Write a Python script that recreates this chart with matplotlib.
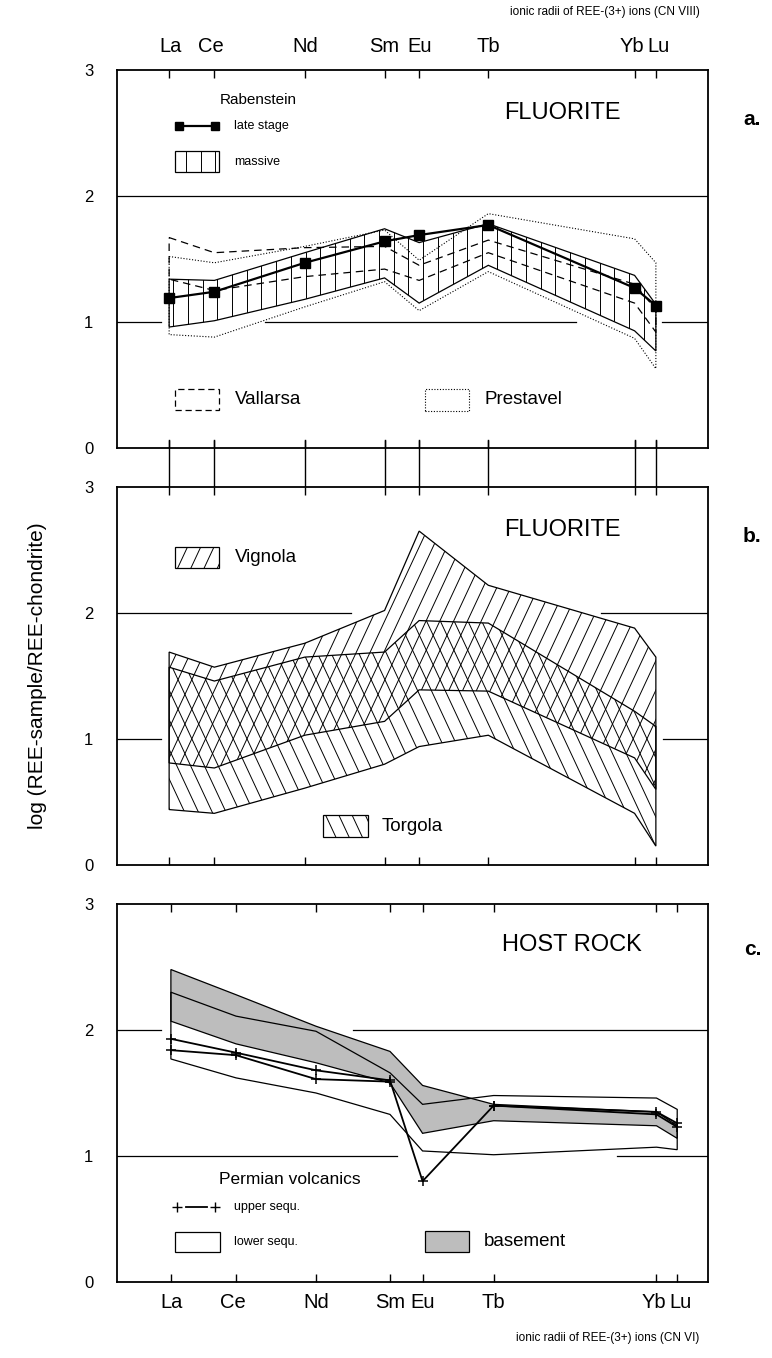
import numpy as np
import matplotlib
matplotlib.use('Agg')
import matplotlib.pyplot as plt
import matplotlib.transforms as mtransforms
from matplotlib.patches import Polygon
from matplotlib.collections import LineCollection

plt.rcParams['font.family'] = ['Liberation Sans', 'DejaVu Sans']

# REE and their ionic radii (Angstrom)
ree = ['La', 'Ce', 'Nd', 'Sm', 'Eu', 'Tb', 'Yb', 'Lu']
radii_cn8 = [1.160, 1.143, 1.109, 1.079, 1.066, 1.040, 0.985, 0.977]
radii_cn6 = [1.032, 1.010, 0.983, 0.958, 0.947, 0.923, 0.868, 0.861]

# a. fluorite: Rabenstein, Vallarsa, Prestavel
late_stage = [1.19, 1.24, 1.47, 1.64, 1.69, 1.77, 1.27, 1.13]
massive_hi = [1.34, 1.33, 1.55, 1.74, 1.63, 1.78, 1.37, 1.14]
massive_lo = [0.96, 1.01, 1.18, 1.35, 1.15, 1.45, 0.93, 0.77]
vallarsa_hi = [1.67, 1.55, 1.59, 1.60, 1.45, 1.65, 1.30, 1.10]
vallarsa_lo = [1.34, 1.25, 1.36, 1.42, 1.33, 1.55, 1.15, 0.92]
prestavel_hi = [1.52, 1.47, 1.60, 1.73, 1.49, 1.86, 1.66, 1.47]
prestavel_lo = [0.90, 0.88, 1.12, 1.32, 1.09, 1.40, 0.87, 0.63]

# b. fluorite: Vignola, Torgola
vignola_hi = [1.69, 1.57, 1.76, 2.02, 2.65, 2.22, 1.88, 1.65]
vignola_lo = [0.81, 0.77, 1.03, 1.14, 1.39, 1.38, 0.85, 0.60]
torgola_hi = [1.57, 1.46, 1.65, 1.69, 1.94, 1.92, 1.22, 1.10]
torgola_lo = [0.44, 0.41, 0.61, 0.80, 0.94, 1.03, 0.41, 0.15]

# c. host rock
basement_hi = [2.48, 2.28, 2.03, 1.83, 1.56, 1.41, 1.35, 1.24]
basement_lo = [2.07, 1.89, 1.74, 1.58, 1.18, 1.28, 1.24, 1.14]
lower_hi = [2.30, 2.11, 1.99, 1.66, 1.41, 1.48, 1.46, 1.37]
lower_lo = [1.77, 1.62, 1.50, 1.33, 1.04, 1.01, 1.07, 1.05]
upper_1 = [1.93, 1.82, 1.68, 1.60, 0.80, 1.40, 1.35, 1.26]
upper_2 = [1.84, 1.80, 1.61, 1.59, np.nan, 1.40, 1.33, 1.23]

# small horizontal nudges (px) for crowded tick labels
label_shift = [1, -3, 0, 0, 0, 0, -3, 3]


def hatch(ax, patch, angle, spacing, lw=0.7):
    # parallel lines (pixel spacing) clipped to a patch
    fig = ax.figure
    bb = ax.get_position()
    W = bb.width * fig.get_figwidth() * fig.dpi
    H = bb.height * fig.get_figheight() * fig.dpi
    a = np.deg2rad(angle)
    d = np.array([np.cos(a), np.sin(a)])
    n = np.array([-np.sin(a), np.cos(a)])
    L = np.hypot(W, H)
    c0 = np.array([W / 2, H / 2])
    segs = []
    for c in np.arange(-L, L, spacing):
        p0 = (c0 + c * n - L * d) / [W, H]
        p1 = (c0 + c * n + L * d) / [W, H]
        segs.append([p0, p1])
    lc = LineCollection(segs, transform=ax.transAxes, colors='k', linewidths=lw)
    ax.add_collection(lc, autolim=False)
    lc.set_clip_path(patch)


def band(ax, x, lo, hi, ls='-', lw=0.9, hatch_angle=None, spacing=14, fc='none'):
    verts = list(zip(x, hi)) + list(zip(x[::-1], lo[::-1]))
    p = Polygon(verts, closed=True, facecolor=fc, edgecolor='k', lw=lw,
                linestyle=ls, transform=ax.transData)
    ax.add_patch(p)
    if hatch_angle is not None:
        hatch(ax, p, hatch_angle, spacing)
    return p


def legend_box(ax, x0, y0, w, h, ls='-', lw=0.9, hatch_angle=None, spacing=14, fc='none'):
    verts = [(x0, y0), (x0 + w, y0), (x0 + w, y0 + h), (x0, y0 + h)]
    r = Polygon(verts, closed=True, transform=ax.transAxes, facecolor=fc,
                edgecolor='k', lw=lw, linestyle=ls, clip_on=False)
    ax.add_patch(r)
    if hatch_angle is not None:
        hatch(ax, r, hatch_angle, spacing)


def setup(ax, radii, xlim, gaps):
    ax.set_xlim(*xlim)
    ax.set_ylim(0, 3)
    ax.set_xticks(radii)
    ax.set_xticklabels(ree)
    ax.set_yticks([0, 1, 2, 3])
    ax.tick_params(axis='y', length=0, pad=17, labelsize=12)
    ax.tick_params(axis='x', direction='in', length=6, width=1, top=True, bottom=True,
                   labelbottom=False, labeltop=False, labelsize=14.5)
    for s in ax.spines.values():
        s.set_linewidth(1.3)
    for yv, segs in gaps.items():
        for a, b in segs:
            ax.axhline(yv, a, b, color='k', lw=0.9, zorder=0)


def shift_labels(ax, labels):
    for lab, dx in zip(labels, label_shift):
        lab.set_transform(lab.get_transform() +
                          mtransforms.ScaledTranslation(dx / 100, 0, ax.figure.dpi_scale_trans))


fig = plt.figure(figsize=(7.72, 13.58), dpi=100)
left, wid, hgt = 117 / 772, 591 / 772, 378 / 1358
ax_a = fig.add_axes([left, 1 - 448 / 1358, wid, hgt])
ax_b = fig.add_axes([left, 1 - 865 / 1358, wid, hgt])
ax_c = fig.add_axes([left, 1 - 1282 / 1358, wid, hgt])

x8 = np.array(radii_cn8)
x6 = np.array(radii_cn6)
lim8 = (1.1796, 0.9574)
lim6 = (1.0502, 0.8506)

setup(ax_a, radii_cn8, lim8, {2: [(0, 1)], 1: [(0, 0.074), (0.25, 0.777), (0.922, 1)]})
setup(ax_b, radii_cn8, lim8, {2: [(0, 0.396), (0.819, 1)], 1: [(0, 0.074), (0.924, 1)]})
setup(ax_c, radii_cn6, lim6, {2: [(0, 0.074), (0.399, 1)], 1: [(0, 0.474), (0.846, 1)]})

ax_a.tick_params(axis='x', labeltop=True, pad=10)
ax_c.tick_params(axis='x', labelbottom=True, pad=8)
shift_labels(ax_a, [t.label2 for t in ax_a.xaxis.get_major_ticks()])
shift_labels(ax_c, [t.label1 for t in ax_c.xaxis.get_major_ticks()])

# vertical connectors between panel a and b
for xv in radii_cn8:
    ax_a.plot([xv, xv], [0.02, -0.124], color='k', lw=1,
              transform=ax_a.get_xaxis_transform(), clip_on=False)

# ---- panel a
band(ax_a, x8, np.array(prestavel_lo), np.array(prestavel_hi), ls=(0, (1, 1.6)), lw=0.8)
band(ax_a, x8, np.array(vallarsa_lo), np.array(vallarsa_hi), ls=(0, (6, 4)), lw=0.9)
band(ax_a, x8, np.array(massive_lo), np.array(massive_hi), hatch_angle=90, spacing=14.7)
ax_a.plot(x8, late_stage, color='k', lw=1.6, marker='s', ms=6.5, zorder=5)

ax_a.text(0.753, 0.886, 'FLUORITE', transform=ax_a.transAxes, ha='center', va='center', fontsize=17)
ax_a.text(1.075, 0.87, 'a.', transform=ax_a.transAxes, ha='center', va='center',
          fontsize=15, fontweight='bold')
ax_a.text(0.239, 0.92, 'Rabenstein', transform=ax_a.transAxes, ha='center', va='center', fontsize=11)
ax_a.plot([0.105, 0.165], [0.852, 0.852], transform=ax_a.transAxes, color='k', lw=1.6,
          marker='s', ms=5.5)
ax_a.text(0.198, 0.852, 'late stage', transform=ax_a.transAxes, va='center', fontsize=9)
legend_box(ax_a, 0.098, 0.730, 0.075, 0.056, hatch_angle=90, spacing=14.5)
ax_a.text(0.198, 0.757, 'massive', transform=ax_a.transAxes, va='center', fontsize=9)
legend_box(ax_a, 0.098, 0.101, 0.075, 0.056, ls=(0, (5, 3)))
ax_a.text(0.2, 0.128, 'Vallarsa', transform=ax_a.transAxes, va='center', fontsize=13.5)
legend_box(ax_a, 0.521, 0.098, 0.075, 0.058, ls=(0, (1, 1.5)), lw=0.8)
ax_a.text(0.621, 0.128, 'Prestavel', transform=ax_a.transAxes, va='center', fontsize=13.5)

# ---- panel b
band(ax_b, x8, np.array(vignola_lo), np.array(vignola_hi), hatch_angle=65, spacing=12.5)
band(ax_b, x8, np.array(torgola_lo), np.array(torgola_hi), hatch_angle=-65, spacing=12.5)

ax_b.text(0.753, 0.886, 'FLUORITE', transform=ax_b.transAxes, ha='center', va='center', fontsize=17)
ax_b.text(1.075, 0.87, 'b.', transform=ax_b.transAxes, ha='center', va='center',
          fontsize=15, fontweight='bold')
legend_box(ax_b, 0.098, 0.785, 0.075, 0.056, hatch_angle=65, spacing=12)
ax_b.text(0.2, 0.813, 'Vignola', transform=ax_b.transAxes, va='center', fontsize=13.5)
legend_box(ax_b, 0.349, 0.074, 0.075, 0.058, hatch_angle=-65, spacing=12)
ax_b.text(0.448, 0.103, 'Torgola', transform=ax_b.transAxes, va='center', fontsize=13.5)

# ---- panel c
band(ax_c, x6, np.array(basement_lo), np.array(basement_hi), fc='#bdbdbd')
band(ax_c, x6, np.array(lower_lo), np.array(lower_hi))
ax_c.plot(x6, upper_1, color='k', lw=1.3, marker='+', ms=7.5, mew=1.1, zorder=5)
ax_c.plot(x6, upper_2, color='k', lw=1.3, marker='+', ms=7.5, mew=1.1, zorder=5)

ax_c.text(0.77, 0.892, 'HOST ROCK', transform=ax_c.transAxes, ha='center', va='center', fontsize=17)
ax_c.text(1.075, 0.88, 'c.', transform=ax_c.transAxes, ha='center', va='center',
          fontsize=15, fontweight='bold')
ax_c.text(0.173, 0.27, 'Permian volcanics', transform=ax_c.transAxes, va='center', fontsize=12.5)
ax_c.plot([0.102, 0.166], [0.198, 0.198], transform=ax_c.transAxes, color='k', lw=0,
          marker='+', ms=7, mew=1)
ax_c.plot([0.116, 0.152], [0.198, 0.198], transform=ax_c.transAxes, color='k', lw=1.3)
ax_c.text(0.198, 0.198, 'upper sequ.', transform=ax_c.transAxes, va='center', fontsize=9)
legend_box(ax_c, 0.098, 0.079, 0.077, 0.053)
ax_c.text(0.198, 0.106, 'lower sequ.', transform=ax_c.transAxes, va='center', fontsize=9)
legend_box(ax_c, 0.521, 0.079, 0.075, 0.056, fc='#bdbdbd')
ax_c.text(0.621, 0.106, 'basement', transform=ax_c.transAxes, va='center', fontsize=13.5)

# figure texts
fig.text(700 / 772, 1 - 12 / 1358, 'ionic radii of REE-(3+) ions (CN VIII)', ha='right',
         va='center', fontsize=8.5)
fig.text(699 / 772, 1 - 1338 / 1358, 'ionic radii of REE-(3+) ions (CN VI)', ha='right',
         va='center', fontsize=8.5)
fig.text(38 / 772, 1 - 676 / 1358, 'log (REE-sample/REE-chondrite)', rotation=90,
         ha='center', va='center', fontsize=15)

fig.savefig('out.png', dpi=100)
